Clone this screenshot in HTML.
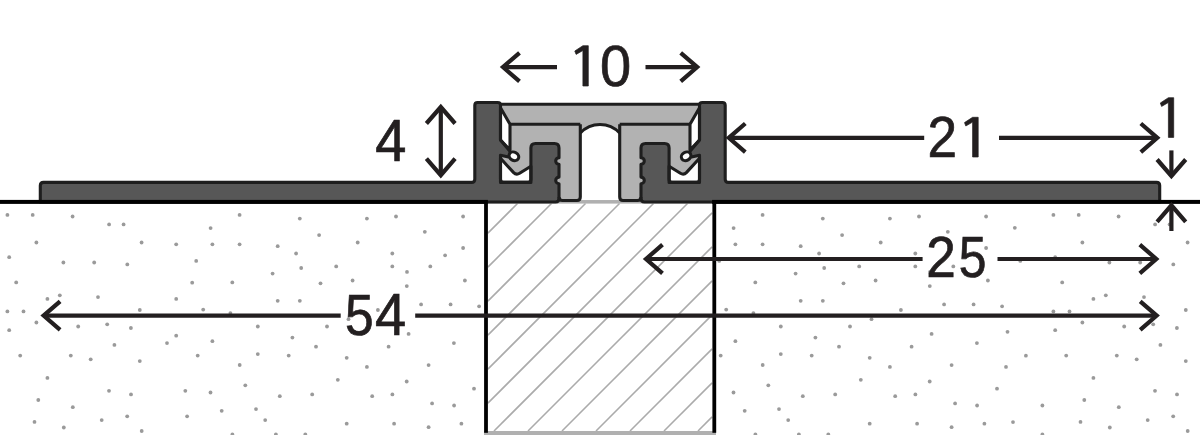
<!DOCTYPE html>
<html><head><meta charset="utf-8"><style>html,body{margin:0;padding:0;background:#fff;overflow:hidden}svg{display:block}</style></head>
<body><svg width="1200" height="435" viewBox="0 0 1200 435">
<rect width="1200" height="435" fill="#fff"/>
<g fill="#9a9a9a"><circle cx="7.4" cy="214.9" r="1.9"/><circle cx="1053.4" cy="214.9" r="1.9"/><circle cx="32.7" cy="214.9" r="1.9"/><circle cx="1078.7" cy="214.9" r="1.9"/><circle cx="72.6" cy="216.5" r="1.9"/><circle cx="1118.6" cy="216.5" r="1.9"/><circle cx="109.1" cy="224.4" r="1.9"/><circle cx="1155.1" cy="224.4" r="1.9"/><circle cx="123.6" cy="224.4" r="1.9"/><circle cx="1169.6" cy="224.4" r="1.9"/><circle cx="36.4" cy="242.5" r="1.9"/><circle cx="1082.4" cy="242.5" r="1.9"/><circle cx="141.6" cy="242.5" r="1.9"/><circle cx="1187.6" cy="242.5" r="1.9"/><circle cx="9.2" cy="257.2" r="1.9"/><circle cx="1055.2" cy="257.2" r="1.9"/><circle cx="63.4" cy="262.5" r="1.9"/><circle cx="1109.4" cy="262.5" r="1.9"/><circle cx="94.2" cy="262.5" r="1.9"/><circle cx="1140.2" cy="262.5" r="1.9"/><circle cx="127.3" cy="264.4" r="1.9"/><circle cx="1173.3" cy="264.4" r="1.9"/><circle cx="16.2" cy="282.4" r="1.9"/><circle cx="1062.2" cy="282.4" r="1.9"/><circle cx="239.6" cy="214.9" r="1.9"/><circle cx="762.6" cy="214.9" r="1.9"/><circle cx="299.8" cy="218.6" r="1.9"/><circle cx="822.8" cy="218.6" r="1.9"/><circle cx="210.6" cy="228.1" r="1.9"/><circle cx="733.6" cy="228.1" r="1.9"/><circle cx="319.1" cy="235.1" r="1.9"/><circle cx="842.1" cy="235.1" r="1.9"/><circle cx="176.2" cy="244.3" r="1.9"/><circle cx="212.4" cy="244.3" r="1.9"/><circle cx="735.4" cy="244.3" r="1.9"/><circle cx="239.6" cy="244.3" r="1.9"/><circle cx="762.6" cy="244.3" r="1.9"/><circle cx="277.7" cy="246.2" r="1.9"/><circle cx="800.7" cy="246.2" r="1.9"/><circle cx="296.1" cy="253.5" r="1.9"/><circle cx="819.1" cy="253.5" r="1.9"/><circle cx="196.2" cy="260.9" r="1.9"/><circle cx="719.2" cy="260.9" r="1.9"/><circle cx="301.2" cy="268.0" r="1.9"/><circle cx="824.2" cy="268.0" r="1.9"/><circle cx="272.6" cy="273.6" r="1.9"/><circle cx="795.6" cy="273.6" r="1.9"/><circle cx="192.2" cy="282.7" r="1.9"/><circle cx="232.3" cy="282.4" r="1.9"/><circle cx="755.3" cy="282.4" r="1.9"/><circle cx="366.9" cy="218.6" r="1.9"/><circle cx="889.9" cy="218.6" r="1.9"/><circle cx="396" cy="216.5" r="1.9"/><circle cx="919" cy="216.5" r="1.9"/><circle cx="463.1" cy="216.5" r="1.9"/><circle cx="986.1" cy="216.5" r="1.9"/><circle cx="424.8" cy="231.8" r="1.9"/><circle cx="947.8" cy="231.8" r="1.9"/><circle cx="357.7" cy="242.5" r="1.9"/><circle cx="880.7" cy="242.5" r="1.9"/><circle cx="463.1" cy="248.0" r="1.9"/><circle cx="986.1" cy="248.0" r="1.9"/><circle cx="392.3" cy="253.5" r="1.9"/><circle cx="915.3" cy="253.5" r="1.9"/><circle cx="445.1" cy="255.3" r="1.9"/><circle cx="968.1" cy="255.3" r="1.9"/><circle cx="336.2" cy="266.4" r="1.9"/><circle cx="859.2" cy="266.4" r="1.9"/><circle cx="392.3" cy="266.4" r="1.9"/><circle cx="915.3" cy="266.4" r="1.9"/><circle cx="430.3" cy="266.4" r="1.9"/><circle cx="953.3" cy="266.4" r="1.9"/><circle cx="407" cy="271.9" r="1.9"/><circle cx="930" cy="271.9" r="1.9"/><circle cx="352.6" cy="280.5" r="1.9"/><circle cx="875.6" cy="280.5" r="1.9"/><circle cx="464.9" cy="280.5" r="1.9"/><circle cx="987.9" cy="280.5" r="1.9"/><circle cx="320.5" cy="283.3" r="1.9"/><circle cx="843.5" cy="283.3" r="1.9"/><circle cx="47.4" cy="298.9" r="1.9"/><circle cx="1093.4" cy="298.9" r="1.9"/><circle cx="59.8" cy="295.3" r="1.9"/><circle cx="1105.8" cy="295.3" r="1.9"/><circle cx="98" cy="297.1" r="1.9"/><circle cx="1144" cy="297.1" r="1.9"/><circle cx="7.4" cy="311.4" r="1.9"/><circle cx="1053.4" cy="311.4" r="1.9"/><circle cx="23.5" cy="311.4" r="1.9"/><circle cx="1069.5" cy="311.4" r="1.9"/><circle cx="139.8" cy="310.0" r="1.9"/><circle cx="1185.8" cy="310.0" r="1.9"/><circle cx="36.4" cy="322.5" r="1.9"/><circle cx="1082.4" cy="322.5" r="1.9"/><circle cx="9.2" cy="330.2" r="1.9"/><circle cx="1055.2" cy="330.2" r="1.9"/><circle cx="78.2" cy="326.5" r="1.9"/><circle cx="1124.2" cy="326.5" r="1.9"/><circle cx="107.2" cy="324.3" r="1.9"/><circle cx="1153.2" cy="324.3" r="1.9"/><circle cx="130.9" cy="328.0" r="1.9"/><circle cx="1176.9" cy="328.0" r="1.9"/><circle cx="114.4" cy="344.9" r="1.9"/><circle cx="1160.4" cy="344.9" r="1.9"/><circle cx="20.2" cy="355.6" r="1.9"/><circle cx="1066.2" cy="355.6" r="1.9"/><circle cx="70.8" cy="355.6" r="1.9"/><circle cx="1116.8" cy="355.6" r="1.9"/><circle cx="90.7" cy="359.3" r="1.9"/><circle cx="1136.7" cy="359.3" r="1.9"/><circle cx="139.8" cy="361.1" r="1.9"/><circle cx="1185.8" cy="361.1" r="1.9"/><circle cx="176.2" cy="298.9" r="1.9"/><circle cx="277.7" cy="300.8" r="1.9"/><circle cx="800.7" cy="300.8" r="1.9"/><circle cx="299.8" cy="300.8" r="1.9"/><circle cx="822.8" cy="300.8" r="1.9"/><circle cx="203.2" cy="309.6" r="1.9"/><circle cx="726.2" cy="309.6" r="1.9"/><circle cx="230.4" cy="313.1" r="1.9"/><circle cx="753.4" cy="313.1" r="1.9"/><circle cx="257.8" cy="326.5" r="1.9"/><circle cx="780.8" cy="326.5" r="1.9"/><circle cx="176.2" cy="335.7" r="1.9"/><circle cx="167" cy="343.1" r="1.9"/><circle cx="212.4" cy="341.2" r="1.9"/><circle cx="735.4" cy="341.2" r="1.9"/><circle cx="292.4" cy="337.6" r="1.9"/><circle cx="815.4" cy="337.6" r="1.9"/><circle cx="316" cy="346.7" r="1.9"/><circle cx="839" cy="346.7" r="1.9"/><circle cx="197.7" cy="355.6" r="1.9"/><circle cx="720.7" cy="355.6" r="1.9"/><circle cx="257.8" cy="354.1" r="1.9"/><circle cx="780.8" cy="354.1" r="1.9"/><circle cx="288.7" cy="355.6" r="1.9"/><circle cx="811.7" cy="355.6" r="1.9"/><circle cx="406.8" cy="286.1" r="1.9"/><circle cx="929.8" cy="286.1" r="1.9"/><circle cx="421.1" cy="304.4" r="1.9"/><circle cx="944.1" cy="304.4" r="1.9"/><circle cx="450.6" cy="304.4" r="1.9"/><circle cx="973.6" cy="304.4" r="1.9"/><circle cx="479.1" cy="306.3" r="1.9"/><circle cx="1002.1" cy="306.3" r="1.9"/><circle cx="377.9" cy="310.0" r="1.9"/><circle cx="900.9" cy="310.0" r="1.9"/><circle cx="348.5" cy="319.2" r="1.9"/><circle cx="871.5" cy="319.2" r="1.9"/><circle cx="327" cy="326.5" r="1.9"/><circle cx="850" cy="326.5" r="1.9"/><circle cx="408.6" cy="333.9" r="1.9"/><circle cx="931.6" cy="333.9" r="1.9"/><circle cx="453.9" cy="343.1" r="1.9"/><circle cx="976.9" cy="343.1" r="1.9"/><circle cx="388.6" cy="346.7" r="1.9"/><circle cx="911.6" cy="346.7" r="1.9"/><circle cx="346.7" cy="357.8" r="1.9"/><circle cx="869.7" cy="357.8" r="1.9"/><circle cx="47.4" cy="377.9" r="1.9"/><circle cx="1093.4" cy="377.9" r="1.9"/><circle cx="109" cy="390.8" r="1.9"/><circle cx="1155" cy="390.8" r="1.9"/><circle cx="131" cy="394.4" r="1.9"/><circle cx="1177" cy="394.4" r="1.9"/><circle cx="38.3" cy="400.0" r="1.9"/><circle cx="1084.3" cy="400.0" r="1.9"/><circle cx="72.8" cy="407.2" r="1.9"/><circle cx="1118.8" cy="407.2" r="1.9"/><circle cx="127.2" cy="416.3" r="1.9"/><circle cx="1173.2" cy="416.3" r="1.9"/><circle cx="101.7" cy="420.1" r="1.9"/><circle cx="1147.7" cy="420.1" r="1.9"/><circle cx="34.5" cy="421.9" r="1.9"/><circle cx="1080.5" cy="421.9" r="1.9"/><circle cx="63.8" cy="427.5" r="1.9"/><circle cx="1109.8" cy="427.5" r="1.9"/><circle cx="141.7" cy="431.0" r="1.9"/><circle cx="1187.7" cy="431.0" r="1.9"/><circle cx="239.7" cy="365.0" r="1.9"/><circle cx="762.7" cy="365.0" r="1.9"/><circle cx="245.3" cy="385.3" r="1.9"/><circle cx="768.3" cy="385.3" r="1.9"/><circle cx="185.3" cy="390.8" r="1.9"/><circle cx="210.5" cy="392.5" r="1.9"/><circle cx="733.5" cy="392.5" r="1.9"/><circle cx="279.8" cy="396.2" r="1.9"/><circle cx="802.8" cy="396.2" r="1.9"/><circle cx="312.2" cy="394.4" r="1.9"/><circle cx="835.2" cy="394.4" r="1.9"/><circle cx="256" cy="409.1" r="1.9"/><circle cx="779" cy="409.1" r="1.9"/><circle cx="221.7" cy="410.8" r="1.9"/><circle cx="744.7" cy="410.8" r="1.9"/><circle cx="187.1" cy="416.3" r="1.9"/><circle cx="265.2" cy="420.1" r="1.9"/><circle cx="788.2" cy="420.1" r="1.9"/><circle cx="232.4" cy="434.3" r="1.9"/><circle cx="755.4" cy="434.3" r="1.9"/><circle cx="275.9" cy="434.3" r="1.9"/><circle cx="798.9" cy="434.3" r="1.9"/><circle cx="305.3" cy="434.3" r="1.9"/><circle cx="828.3" cy="434.3" r="1.9"/><circle cx="366.9" cy="366.9" r="1.9"/><circle cx="889.9" cy="366.9" r="1.9"/><circle cx="428.6" cy="365.1" r="1.9"/><circle cx="951.6" cy="365.1" r="1.9"/><circle cx="337.8" cy="379.8" r="1.9"/><circle cx="860.8" cy="379.8" r="1.9"/><circle cx="406.7" cy="381.5" r="1.9"/><circle cx="929.7" cy="381.5" r="1.9"/><circle cx="474" cy="388.7" r="1.9"/><circle cx="997" cy="388.7" r="1.9"/><circle cx="372.2" cy="396.2" r="1.9"/><circle cx="895.2" cy="396.2" r="1.9"/><circle cx="392.4" cy="394.4" r="1.9"/><circle cx="915.4" cy="394.4" r="1.9"/><circle cx="432.1" cy="403.4" r="1.9"/><circle cx="955.1" cy="403.4" r="1.9"/><circle cx="454.1" cy="405.5" r="1.9"/><circle cx="977.1" cy="405.5" r="1.9"/><circle cx="346.7" cy="423.7" r="1.9"/><circle cx="869.7" cy="423.7" r="1.9"/><circle cx="394.1" cy="423.7" r="1.9"/><circle cx="917.1" cy="423.7" r="1.9"/><circle cx="428.6" cy="427.2" r="1.9"/><circle cx="951.6" cy="427.2" r="1.9"/><circle cx="461.4" cy="423.7" r="1.9"/><circle cx="984.4" cy="423.7" r="1.9"/><circle cx="1014.8" cy="227.8" r="1.9"/><circle cx="1020.3" cy="260.9" r="1.9"/><circle cx="1007.5" cy="331.8" r="1.9"/><circle cx="1025.9" cy="355.7" r="1.9"/><circle cx="1006" cy="366.9" r="1.9"/><circle cx="1042.4" cy="405.5" r="1.9"/><circle cx="1013" cy="422.1" r="1.9"/><circle cx="1042.4" cy="434.3" r="1.9"/></g>
<g stroke="#ababab" stroke-width="1.6"><line x1="487.9" y1="233.1" x2="517.5" y2="203.5" /><line x1="487.9" y1="267.1" x2="551.5" y2="203.5" /><line x1="487.9" y1="301.1" x2="585.5" y2="203.5" /><line x1="487.9" y1="335.1" x2="619.5" y2="203.5" /><line x1="487.9" y1="369.1" x2="653.5" y2="203.5" /><line x1="487.9" y1="403.1" x2="687.5" y2="203.5" /><line x1="494.0" y1="431.0" x2="712.1" y2="212.9" /><line x1="528.0" y1="431.0" x2="712.1" y2="246.9" /><line x1="562.0" y1="431.0" x2="712.1" y2="280.9" /><line x1="596.0" y1="431.0" x2="712.1" y2="314.9" /><line x1="630.0" y1="431.0" x2="712.1" y2="348.9" /><line x1="664.0" y1="431.0" x2="712.1" y2="382.9" /><line x1="698.0" y1="431.0" x2="712.1" y2="416.9" /></g>
<rect x="487" y="200.1" width="226" height="3.5" fill="#b0b0b0"/>
<rect x="484" y="431" width="232" height="4" fill="#b0b0b0"/>
<rect x="484.1" y="200" width="3.8" height="232.8" fill="#000"/>
<rect x="712.4" y="200" width="3.8" height="232.8" fill="#000"/>
<rect x="500.5" y="104.2" width="199" height="97" fill="#b2b2b2"/>
<path d="M580.3 200.1 L580.3 133 A27.1 27.1 0 0 1 619.7 133 L619.7 200.1 L580.3 200.1 Z" fill="#fff"/>
<path d="M580.3 133 A27.1 27.1 0 0 1 619.7 133" fill="none" stroke="#1e1e1e" stroke-width="3.1"/>
<path d="M500.5 104.2 L699.5 104.2" stroke="#1e1e1e" stroke-width="3.1"/>

<path d="M40.3 202 L40.3 185.6 Q40.3 182.4 43.5 182.4 L471.6 182.4 Q474.8 182.4 474.8 179.2 L474.8 105.3 Q474.8 102.5 477.6 102.5 L497.7 102.5 Q500.5 102.5 500.5 105.3 L500.5 140 L509.5 150.8 Q511.5 154 508.5 157 L500.5 155.2 L500.5 179.2 Q500.5 182.4 503.7 182.4 L527.7 182.4 Q530.9 182.4 530.9 179.2 L530.9 148 Q530.9 143.5 535.4 143.5 L554.5 143.5 Q559 143.5 559 148 L559 157.7 A3.3 3.3 0 0 0 559 164.3 L559 177.1 A3.3 3.3 0 0 0 559 183.7 L559 198.5 Q559 202 555.5 202 Z" fill="#575757" />
<path d="M500.5 107.8 L510 124.3 L510 150 L500.5 140 Z" fill="#fff" />
<path d="M500.5 158.3 L513.4 172.4 Q516.3 175.4 519.6 173.3 L530.9 166.2 L530.9 182.4 L500.5 182.4 Z" fill="#fff" />
<g fill="none" stroke="#1e1e1e" stroke-width="3.1" stroke-linejoin="round">
<path d="M40.3 202 L40.3 185.6 Q40.3 182.4 43.5 182.4 L471.6 182.4 Q474.8 182.4 474.8 179.2 L474.8 105.3 Q474.8 102.5 477.6 102.5 L497.7 102.5 Q500.5 102.5 500.5 105.3 L500.5 140 L509.5 150.8 Q511.5 154 508.5 157 L500.5 155.2 L500.5 179.2 Q500.5 182.4 503.7 182.4 L527.7 182.4 Q530.9 182.4 530.9 179.2 L530.9 148 Q530.9 143.5 535.4 143.5 L554.5 143.5 Q559 143.5 559 148 L559 157.7 A3.3 3.3 0 0 0 559 164.3 L559 177.1 A3.3 3.3 0 0 0 559 183.7 L559 198.5 Q559 202 555.5 202 Z" />
<path d="M500.5 107.8 L510 124.3 L510 150 L500.5 140 Z" />
<path d="M500.5 158.3 L513.4 172.4 Q516.3 175.4 519.6 173.3 L530.9 166.2 L530.9 182.4 L500.5 182.4 Z" />
<path d="M510 124.3 L580.3 124.3" />
<path d="M559 197 Q559 200.5 562.5 200.5 L577 200.5 Q580.3 200.5 580.3 197 L580.3 124.3" />
</g>
<ellipse cx="513.9" cy="156.3" rx="5" ry="4.1" transform="rotate(30 513.9 156.3)" fill="#fff" stroke="#1e1e1e" stroke-width="3.1" />

<g transform="translate(1200 0) scale(-1 1)">
<path d="M40.3 202 L40.3 185.6 Q40.3 182.4 43.5 182.4 L471.6 182.4 Q474.8 182.4 474.8 179.2 L474.8 105.3 Q474.8 102.5 477.6 102.5 L497.7 102.5 Q500.5 102.5 500.5 105.3 L500.5 140 L509.5 150.8 Q511.5 154 508.5 157 L500.5 155.2 L500.5 179.2 Q500.5 182.4 503.7 182.4 L527.7 182.4 Q530.9 182.4 530.9 179.2 L530.9 148 Q530.9 143.5 535.4 143.5 L554.5 143.5 Q559 143.5 559 148 L559 157.7 A3.3 3.3 0 0 0 559 164.3 L559 177.1 A3.3 3.3 0 0 0 559 183.7 L559 198.5 Q559 202 555.5 202 Z" fill="#575757" />
<path d="M500.5 107.8 L510 124.3 L510 150 L500.5 140 Z" fill="#fff" />
<path d="M500.5 158.3 L513.4 172.4 Q516.3 175.4 519.6 173.3 L530.9 166.2 L530.9 182.4 L500.5 182.4 Z" fill="#fff" />
<g fill="none" stroke="#1e1e1e" stroke-width="3.1" stroke-linejoin="round">
<path d="M40.3 202 L40.3 185.6 Q40.3 182.4 43.5 182.4 L471.6 182.4 Q474.8 182.4 474.8 179.2 L474.8 105.3 Q474.8 102.5 477.6 102.5 L497.7 102.5 Q500.5 102.5 500.5 105.3 L500.5 140 L509.5 150.8 Q511.5 154 508.5 157 L500.5 155.2 L500.5 179.2 Q500.5 182.4 503.7 182.4 L527.7 182.4 Q530.9 182.4 530.9 179.2 L530.9 148 Q530.9 143.5 535.4 143.5 L554.5 143.5 Q559 143.5 559 148 L559 157.7 A3.3 3.3 0 0 0 559 164.3 L559 177.1 A3.3 3.3 0 0 0 559 183.7 L559 198.5 Q559 202 555.5 202 Z" />
<path d="M500.5 107.8 L510 124.3 L510 150 L500.5 140 Z" />
<path d="M500.5 158.3 L513.4 172.4 Q516.3 175.4 519.6 173.3 L530.9 166.2 L530.9 182.4 L500.5 182.4 Z" />
<path d="M510 124.3 L580.3 124.3" />
<path d="M559 197 Q559 200.5 562.5 200.5 L577 200.5 Q580.3 200.5 580.3 197 L580.3 124.3" />
</g>
<ellipse cx="513.9" cy="156.3" rx="5" ry="4.1" transform="rotate(30 513.9 156.3)" fill="#fff" stroke="#1e1e1e" stroke-width="3.1" />
</g>
<rect x="0" y="199.9" width="487.9" height="4" fill="#000"/>
<rect x="712.1" y="199.9" width="487.9" height="4" fill="#000"/>
<g stroke="#231f20" stroke-width="4.2" fill="none" stroke-linejoin="miter" stroke-miterlimit="10"><path d="M557.0 67.1 L503.0 67.1" /><path d="M519.5 52.8 L503.0 67.1 L519.5 81.4" /><path d="M645.5 67.1 L697.2 67.1" /><path d="M680.7 81.4 L697.2 67.1 L680.7 52.8" /><path d="M440.8 141.0 L440.8 107.0" /><path d="M455.1 123.5 L440.8 107.0 L426.4 123.5" /><path d="M440.8 141.0 L440.8 175.2" /><path d="M426.4 158.7 L440.8 175.2 L455.1 158.7" /><path d="M924.2 137.8 L728.8 137.8" /><path d="M745.3 123.5 L728.8 137.8 L745.3 152.1" /><path d="M999.0 137.8 L1157.3 137.8" /><path d="M1140.8 152.1 L1157.3 137.8 L1140.8 123.5" /><path d="M1171.4 150.4 L1171.4 176.0" /><path d="M1157.1 159.5 L1171.4 176.0 L1185.7 159.5" /><path d="M1171.4 231.0 L1171.4 205.3" /><path d="M1185.7 221.8 L1171.4 205.3 L1157.1 221.8" /><path d="M922.6 259.0 L646.0 259.0" /><path d="M662.5 244.7 L646.0 259.0 L662.5 273.3" /><path d="M997.5 259.0 L1156.3 259.0" /><path d="M1139.8 273.3 L1156.3 259.0 L1139.8 244.7" /><path d="M340.7 315.6 L43.6 315.6" /><path d="M60.1 301.3 L43.6 315.6 L60.1 329.9" /><path d="M415.2 315.6 L1156.7 315.6" /><path d="M1140.2 329.9 L1156.7 315.6 L1140.2 301.3" /></g>
<g font-family="Liberation Sans" font-size="56" fill="#231f20" stroke="#231f20" stroke-width="0.7"><text transform="translate(600.1 85.5) scale(1.0 1.01)">0</text><path d="M582.9 45.7 L588.3 45.7 L588.3 86 L582.9 86 L582.9 50.5 L576.1 54.400000000000006 L574.8 51.0 Z"/><text transform="translate(375.2 160.6) scale(1.0 1.045)">4</text><text transform="translate(927.4 156.8) scale(0.95 1.025)">2</text><path d="M972.6 117.3 L978.2 117.3 L978.2 157 L972.6 157 L972.6 122.1 L965.8000000000001 126.0 L964.5 122.6 Z"/><path d="M1168.4 97.7 L1173.7 97.7 L1173.7 137.4 L1168.4 137.4 L1168.4 102.5 L1161.6000000000001 106.4 L1160.3000000000002 103.0 Z"/><text transform="translate(926.3 276.9) scale(0.95 1.025)">2</text><text transform="translate(958.7 277) scale(0.89 1.03)">5</text><text transform="translate(345.1 334.8) scale(0.92 1.04)">5</text><text transform="translate(374.9 334.9) scale(1.0 1.045)">4</text></g>
</svg></body></html>
